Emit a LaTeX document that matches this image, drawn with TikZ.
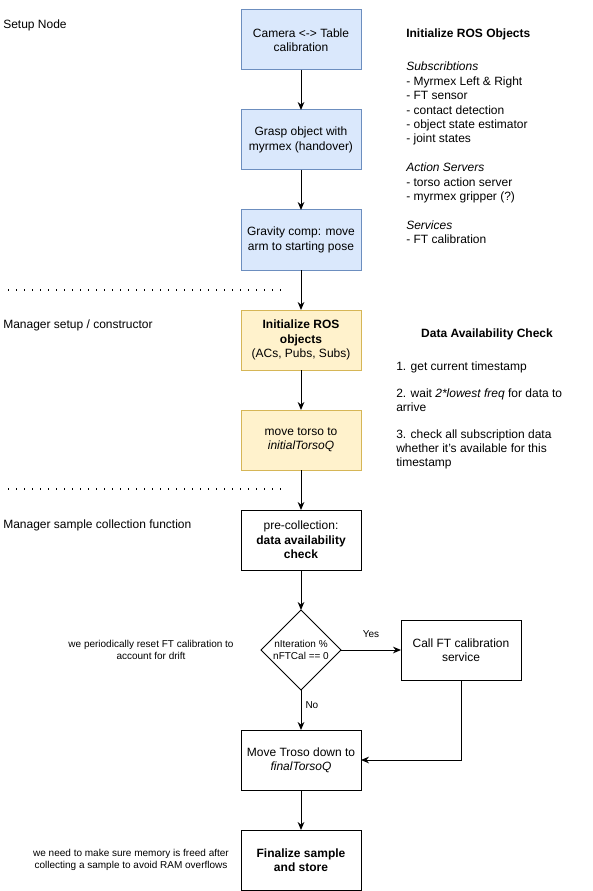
\documentclass[tikz,border=0pt]{standalone}
\usepackage{fontspec}
\setmainfont{Liberation Sans}
\usetikzlibrary{positioning,shapes.geometric,arrows.meta}

\begin{document}
\begin{tikzpicture}[
		x=0.75pt,y=-0.75pt,
		font=\fontsize{9}{10.8}\selectfont,
		box/.style={
			draw,
			line width=0.75pt,
			minimum width=90pt,
			minimum height=45pt,
			inner sep=2pt,
			outer sep=0pt,
			align=center
		},
		setupbox/.style={box,draw=setupdraw,fill=setupfill},
		managerbox/.style={box,draw=managerdraw,fill=managerfill},
		decision/.style={
			draw,
			line width=0.75pt,
			shape=diamond,
			minimum width=60pt,
			minimum height=60pt,
			inner sep=0pt,
			outer sep=0pt,
			align=center,
			font=\fontsize{7.5}{9}\selectfont
		},
		plain/.style={
			draw=none,
			fill=none,
			inner sep=0pt
		},
		remark/.style={plain,align=center,font=\fontsize{7.5}{9}\selectfont},
		sectionline/.style={line width=1.1pt,dash pattern=on 1.1pt off 4.9pt},
		node distance=30pt,
		>={Stealth[length=6pt,width=5pt]}
		]
		\definecolor{setupfill}{HTML}{DAE8FC}
		\definecolor{setupdraw}{HTML}{6C8EBF}
		\definecolor{managerfill}{HTML}{FFF2CC}
		\definecolor{managerdraw}{HTML}{D6B656}
		\useasboundingbox (0,0) rectangle (592,891);

		% Main column
		\node[setupbox] (calib) at (301,40) {Camera <-> Table\\ calibration};
		\node[setupbox,below=of calib] (grasp) {Grasp object with\\ myrmex (handover)};
		\node[setupbox,below=of grasp] (gravity) {Gravity comp: move\\ arm to starting pose};
		\node[managerbox,below=of gravity] (initros) {\textbf{Initialize ROS}\\ \textbf{objects}\\ (ACs, Pubs, Subs)};
		\node[managerbox,below=of initros] (torso) {move torso to\\ \textit{initialTorsoQ}};
		\node[box,below=of torso] (precol) {pre-collection:\\ \textbf{data availability}\\ \textbf{check}};
		\node[decision,below=of precol] (ftcheck) {nIteration \%\\ nFTCal == 0};
		\node[box,right=45pt of ftcheck] (ftcal) {Call FT calibration\\ service};
		\node[box,below=of ftcheck] (movedown) {Move Troso down to\\ \textit{finalTorsoQ}};
		\node[box,below=of movedown] (finalize) {\textbf{Finalize sample}\\ \textbf{and store}};

		% Section labels
		\node[plain,anchor=west] (lsetup) at (3,25) {Setup Node};
		\node[plain,anchor=west] (lmanager) at (3,325) {Manager setup / constructor};
		\node[plain,anchor=west] (lcollect) at (3,525) {Manager sample collection function};

		% Section separators
		\draw[sectionline] (8,290) -- (283,290);
		\draw[sectionline] (8,489) -- (283,489);

		% Notes on the right
		\node[plain,anchor=west] (rostitle) at (406,34) {\textbf{Initialize ROS Objects}};
		\node[plain,anchor=north west,align=left] (roslist) at (406,62) {\textit{Subscribtions}\\ - Myrmex Left \& Right\\ - FT sensor\\ - contact detection\\ - object state estimator\\ - joint states\\[10.8pt] \textit{Action Servers}\\ - torso action server\\ - myrmex gripper (?)\\[10.8pt] \textit{Services}\\ - FT calibration};
		\node[plain] (checktitle) at (487,334) {\textbf{Data Availability Check}};
		\node[plain,anchor=north west,align=left] (checklist) at (396,362) {1. get current timestamp\\[9pt] 2. wait \textit{2*lowest freq} for data to\\ arrive\\[9pt] 3. check all subscription data\\ whether it's available for this\\ timestamp};

		% Remarks on the left
		\node[remark] (driftnote) at (151,650) {we periodically reset FT calibration to\\ account for drift};
		\node[remark] (memnote) at (131,860) {we need to make sure memory is freed after\\ collecting a sample to avoid RAM overflows};

		% Flow
		\foreach \from/\to in {calib/grasp,grasp/gravity,gravity/initros,initros/torso,torso/precol,precol/ftcheck,movedown/finalize}
			\draw[->,line width=0.75pt] (\from) -- (\to);
		\draw[->,line width=0.75pt] (ftcheck) -- node[plain,above=9pt,font=\fontsize{7.5}{9}\selectfont] {Yes} (ftcal);
		\draw[->,line width=0.75pt] (ftcheck) -- node[plain,pos=0.375,right=3pt,font=\fontsize{7.5}{9}\selectfont] {No} (movedown);
		\draw[->,line width=0.75pt] (ftcal.south) |- (movedown.east);
		\end{tikzpicture}
\end{document}
